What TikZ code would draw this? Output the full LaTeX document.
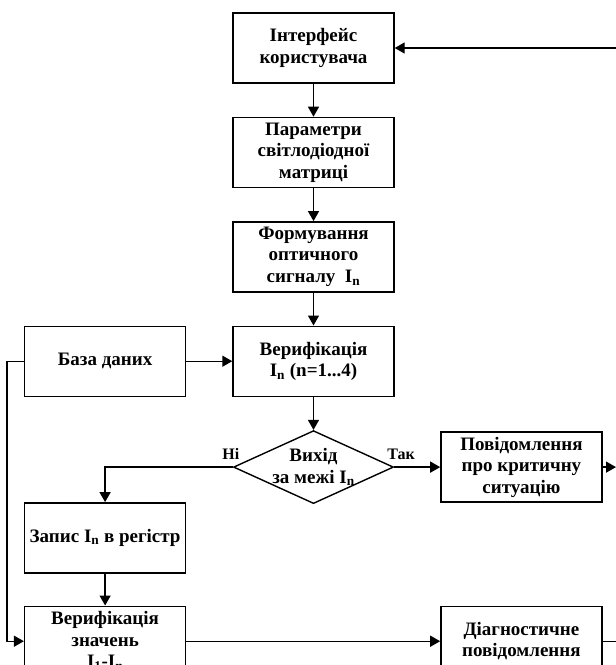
\documentclass[tikz,border=0pt]{standalone}
\usepackage{fontspec}
\setmainfont{Liberation Serif}
\usetikzlibrary{arrows.meta,positioning,shapes.geometric}

\tikzset{
  block/.style={draw, minimum width=161pt, minimum height=70pt, align=center, inner sep=1pt, font=\bfseries\fontsize{19}{21.5}\selectfont},
  decision/.style={draw, diamond, minimum width=160pt, minimum height=73pt, inner sep=0pt},
  inside/.style={align=center, inner sep=0pt, font=\bfseries\fontsize{19}{22}\selectfont},
  answer/.style={inner sep=1pt, font=\bfseries\fontsize{16}{18}\selectfont},
}

\begin{document}
\begin{tikzpicture}[x=1pt, y=1pt, line width=1.4pt, >={Triangle[length=10pt,width=11pt]}, node distance=33pt]
  \clip (0,0) rectangle (616,-665);
  \node[block] (ui) at (313.5,-48) {Інтерфейс\\користувача};
  \node[block] (params) [below=of ui] {Параметри\\світлодіодної\\матриці};
  \node[block] (signal) [below=of params] {Формування\\оптичного\\сигналу\ \ I\textsubscript{n}};
  \node[block] (verif) [below=of signal] {Верифікація\\I\textsubscript{n} (n=1...4)};
  \node[block] (db) [left=46pt of verif] {База даних};
  \node[decision] (exit) [below=of verif] {};
  \node[inside] (exittext) at (exit) {Вихід\\за межі I\textsubscript{n}};
  \node[block] (alarm) [right=46pt of exit] {Повідомлення\\про критичну\\ситуацію};
  \coordinate (turn) at (db |- exit);
  \node[block] (rec) [below=35pt of turn] {Запис I\textsubscript{n} в регістр};
  \node[block] (check) [below=32pt of rec] {Верифікація\\значень\\I\textsubscript{1}-I\textsubscript{n}};
  \node[block] (diag) at (alarm |- check) {Діагностичне\\повідомлення};
  \coordinate (rim) at (616,0);
  \coordinate[left=17pt of db.west] (bus);

  \draw[->] (rim |- ui) -- (ui);
  \draw[->] (ui) -- (params);
  \draw[->] (params) -- (signal);
  \draw[->] (signal) -- (verif);
  \draw[->] (db) -- (verif);
  \draw[->] (verif) -- (exit);
  \draw[->] (exit) -- node[answer, at start, above=6pt, xshift=7pt] (yes) {Так} (alarm);
  \draw[->] (exit.west) -| node[answer, at start, above=6pt, xshift=-2pt] (no) {Ні} (rec);
  \draw[->] (alarm) -- (rim |- alarm);
  \draw[->] (rec) -- (check);
  \draw[->] (db.west) -- (bus) |- (check.west);
  \draw[->] (check) -- (diag);
  \draw (diag) -- (rim |- diag);
\end{tikzpicture}
\end{document}
